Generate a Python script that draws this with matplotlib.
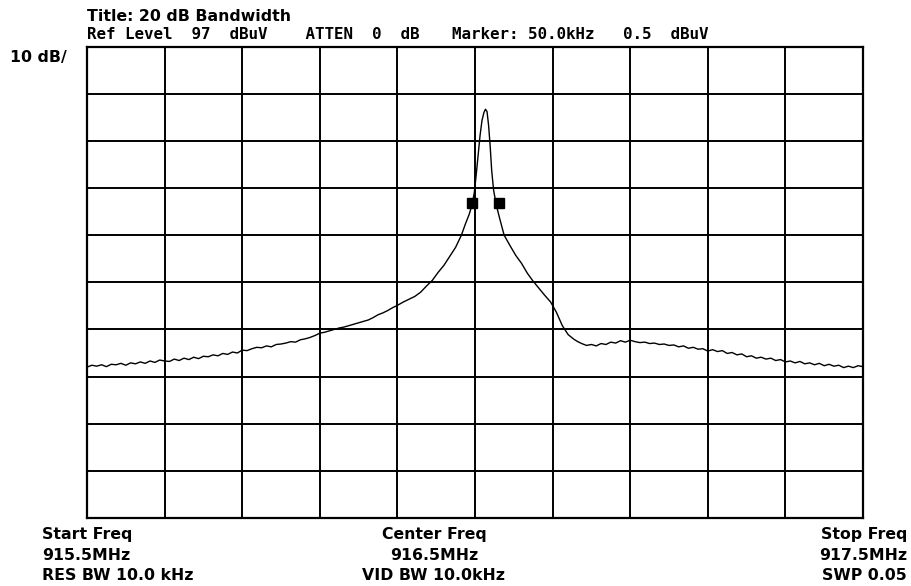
"""Spectrum analyzer screen capture: 20 dB bandwidth of a 916.5 MHz carrier."""

import matplotlib

matplotlib.use("Agg")
import matplotlib.pyplot as plt

# Sweep settings shown on the analyzer screen
start_freq = 915.5  # MHz
stop_freq = 917.5  # MHz
ref_level = 97  # dBuV, top graticule line
db_per_div = 10
n_div = 10

# Trace (frequency in MHz, level in dBuV)
freq_mhz = [
    # noise floor, left side
    915.5000, 915.5125, 915.5250, 915.5375, 915.5500, 915.5625, 915.5750, 915.5875,
    915.6000, 915.6125, 915.6250, 915.6375, 915.6500, 915.6625, 915.6750, 915.6875,
    915.7000, 915.7125, 915.7250, 915.7375, 915.7500, 915.7625, 915.7750, 915.7875,
    915.8000, 915.8125, 915.8250, 915.8375, 915.8500, 915.8625, 915.8750, 915.8875,
    915.9000, 915.9125, 915.9250, 915.9375, 915.9500, 915.9625, 915.9750, 915.9875,
    916.0000, 916.0125, 916.0250, 916.0375, 916.0500, 916.0625, 916.0750, 916.0875,
    916.1000, 916.1125, 916.1250, 916.1375, 916.1500, 916.1625, 916.1750, 916.1875,
    916.2000, 916.2125, 916.2250, 916.2375, 916.2500, 916.2625, 916.2750, 916.2875,
    916.3000,
    # left skirt and peak
    916.315, 916.330, 916.345, 916.360, 916.375, 916.390, 916.405, 916.420,
    916.435, 916.450, 916.465, 916.475, 916.485, 916.492, 916.498, 916.503,
    916.508, 916.513, 916.518, 916.523, 916.527, 916.531,
    # right skirt
    916.535, 916.539, 916.543, 916.548, 916.555, 916.565, 916.575, 916.590,
    916.605, 916.620, 916.635, 916.650, 916.665, 916.680, 916.695, 916.710,
    916.725, 916.740, 916.755, 916.765,
    # noise floor, right side
    916.7750, 916.7875, 916.8000, 916.8125, 916.8250, 916.8375, 916.8500, 916.8625,
    916.8750, 916.8875, 916.9000, 916.9125, 916.9250, 916.9375, 916.9500, 916.9625,
    916.9750, 916.9875, 917.0000, 917.0125, 917.0250, 917.0375, 917.0500, 917.0625,
    917.0750, 917.0875, 917.1000, 917.1125, 917.1250, 917.1375, 917.1500, 917.1625,
    917.1750, 917.1875, 917.2000, 917.2125, 917.2250, 917.2375, 917.2500, 917.2625,
    917.2750, 917.2875, 917.3000, 917.3125, 917.3250, 917.3375, 917.3500, 917.3625,
    917.3750, 917.3875, 917.4000, 917.4125, 917.4250, 917.4375, 917.4500, 917.4625,
    917.4750, 917.4875, 917.5000,
]
level_dbuv = [
    29.0, 29.4, 29.2, 29.5, 29.1, 29.6, 29.5, 29.8,
    29.4, 29.9, 29.7, 30.1, 29.8, 30.3, 30.0, 30.5,
    30.3, 30.2, 30.7, 30.4, 30.9, 30.6, 31.1, 30.8,
    31.3, 31.2, 31.6, 31.4, 31.9, 31.7, 32.2, 32.0,
    32.6, 32.5, 32.9, 33.2, 33.1, 33.5, 33.3, 33.8,
    33.9, 34.1, 34.4, 34.3, 34.8, 35.0, 35.3, 35.7,
    36.2, 36.4, 36.7, 37.0, 37.3, 37.5, 37.8, 38.1,
    38.4, 38.7, 39.0, 39.5, 40.1, 40.5, 41.0, 41.6,
    42.1,
    42.8, 43.4, 44.0, 44.9, 46.2, 47.4, 49.1, 50.6,
    52.5, 54.4, 57.0, 59.3, 61.4, 63.3, 65.9, 69.7,
    73.9, 78.1, 81.3, 83.0, 83.7, 83.2,
    80.3, 76.0, 70.7, 66.5, 63.3, 60.1, 57.0, 54.8,
    52.7, 51.0, 48.9, 47.2, 45.7, 44.2, 42.8, 40.6,
    37.8, 35.9, 34.9, 34.4,
    34.0, 33.6, 33.8, 33.5, 34.0, 33.8, 34.3, 34.1,
    34.6, 34.3, 34.7, 34.4, 34.2, 34.3, 34.0, 34.1,
    33.8, 33.9, 33.6, 33.7, 33.3, 33.5, 33.0, 33.2,
    32.8, 32.9, 32.4, 32.7, 32.3, 32.5, 31.9, 32.1,
    31.6, 31.8, 31.2, 31.4, 30.9, 31.1, 30.7, 30.9,
    30.4, 30.6, 30.1, 30.3, 29.9, 30.2, 29.7, 29.9,
    29.5, 29.8, 29.3, 29.6, 29.2, 29.4, 28.9, 29.2,
    28.9, 29.3, 29.1,
]

# The two -20 dB markers either side of the peak
marker_freq = [916.491, 916.561]
marker_level = [63.9, 63.9]

header_title = "Title: 20 dB Bandwidth"
header_ref = "Ref Level  97  dBuV    ATTEN  0  dB"
header_marker = "Marker: 50.0kHz   0.5  dBuV"
scale_label = "10 dB/"
footer_left = ["Start Freq", "915.5MHz", "RES BW 10.0 kHz"]
footer_mid = ["Center Freq", "916.5MHz", "VID BW 10.0kHz"]
footer_right = ["Stop Freq", "917.5MHz", "SWP 0.05"]

W, H = 912, 586
fig = plt.figure(figsize=(W / 100, H / 100), dpi=100)
fig.patch.set_facecolor("white")

# Graticule box in pixel coordinates of the original screen capture
left, right, top, bottom = 87, 863, 46.5, 518
ax = fig.add_axes([left / W, 1 - bottom / H, (right - left) / W, (bottom - top) / H])

bottom_level = ref_level - db_per_div * n_div
ax.set_xlim(start_freq, stop_freq)
ax.set_ylim(bottom_level, ref_level)

span = stop_freq - start_freq
ax.set_xticks([start_freq + span * i / n_div for i in range(n_div + 1)])
ax.set_yticks([bottom_level + db_per_div * i for i in range(n_div + 1)])
ax.tick_params(length=0, labelbottom=False, labelleft=False)
ax.grid(True, color="black", linewidth=1.4)
for spine in ax.spines.values():
    spine.set_linewidth(1.6)
    spine.set_color("black")

ax.plot(freq_mhz, level_dbuv, color="black", linewidth=1.0, zorder=3)
ax.plot(marker_freq, marker_level, linestyle="none", marker="s",
        markersize=6.5, color="black", zorder=4)

# Proportional bold font for most labels; the status line is fixed-pitch
font = dict(family=["DejaVu Sans"], weight="bold", size=11.3, va="baseline")
mono = dict(family=["DejaVu Sans Mono"], weight="bold", size=11.4, va="baseline")


def px(x, y):
    return x / W, 1 - y / H


fig.text(*px(87, 21), header_title, ha="left", **font)
fig.text(*px(87, 39), header_ref, ha="left", **mono)
fig.text(*px(452, 39), header_marker, ha="left", **mono)
fig.text(*px(10, 62), scale_label, ha="left", **font)

# Footer: three lines under the start, centre and stop of the sweep
for row, y in enumerate([539, 560, 580]):
    fig.text(*px(42, y), footer_left[row], ha="left", **font)
    fig.text(*px(434, y), footer_mid[row], ha="center", **font)
    fig.text(*px(907, y), footer_right[row], ha="right", **font)

fig.savefig("out.png", dpi=100, facecolor="white")
plt.close(fig)
